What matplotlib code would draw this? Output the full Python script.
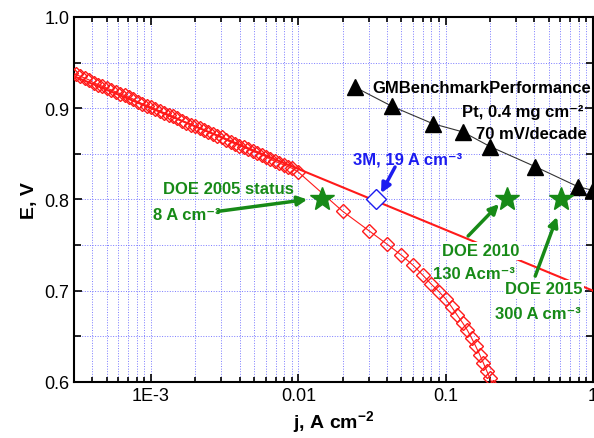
import matplotlib
matplotlib.use("Agg")
import matplotlib.pyplot as plt
from matplotlib.ticker import MultipleLocator, LogLocator, NullFormatter

plt.rcParams['font.family'] = ['Liberation Sans', 'DejaVu Sans']
plt.rcParams['mathtext.fontset'] = 'custom'
plt.rcParams['mathtext.rm'] = 'Liberation Sans'
plt.rcParams['mathtext.bf'] = 'Liberation Sans:bold'

# measured polarisation curve (open red diamonds)
j_meas = [2.88e-4, 3.09e-4, 3.31e-4, 3.55e-4, 3.80e-4, 4.07e-4, 4.37e-4, 4.68e-4,
          5.01e-4, 5.37e-4, 5.75e-4, 6.17e-4, 6.61e-4, 7.08e-4, 7.59e-4, 8.13e-4,
          8.71e-4, 9.33e-4, 1.00e-3, 1.07e-3, 1.15e-3, 1.23e-3, 1.32e-3, 1.41e-3,
          1.51e-3, 1.62e-3, 1.74e-3, 1.86e-3, 2.00e-3, 2.14e-3, 2.29e-3, 2.45e-3,
          2.63e-3, 2.82e-3, 3.02e-3, 3.24e-3, 3.47e-3, 3.72e-3, 3.98e-3, 4.27e-3,
          4.57e-3, 4.90e-3, 5.25e-3, 5.62e-3, 6.03e-3, 6.46e-3, 6.92e-3, 7.41e-3,
          7.94e-3, 8.51e-3, 9.12e-3,
          0.01, 0.02, 0.03, 0.04, 0.05, 0.06, 0.07, 0.08, 0.09, 0.10,
          0.11, 0.12, 0.13, 0.14, 0.15, 0.16, 0.17, 0.18, 0.19, 0.20, 0.21]
E_meas = [0.939, 0.937, 0.935, 0.933, 0.931, 0.928, 0.926, 0.924, 0.922, 0.920,
          0.918, 0.916, 0.914, 0.912, 0.910, 0.907, 0.905, 0.903, 0.901, 0.899,
          0.897, 0.895, 0.893, 0.891, 0.889, 0.886, 0.884, 0.882, 0.880, 0.878,
          0.876, 0.874, 0.872, 0.870, 0.868, 0.865, 0.863, 0.861, 0.859, 0.857,
          0.855, 0.853, 0.851, 0.849, 0.847, 0.844, 0.842, 0.840, 0.838, 0.836,
          0.834,
          0.830, 0.787, 0.766, 0.751, 0.739, 0.728, 0.717, 0.707, 0.699, 0.691,
          0.682, 0.673, 0.665, 0.657, 0.648, 0.639, 0.630, 0.621, 0.612, 0.604, 0.595]

# Tafel fit line
j_tafel = [3e-4, 1.0]
E_tafel = [0.935, 0.700]

# GM benchmark
j_gm = [0.0243, 0.0433, 0.082, 0.131, 0.200, 0.405, 0.79, 1.0]
E_gm = [0.923, 0.902, 0.883, 0.874, 0.858, 0.836, 0.814, 0.810]

# DOE targets
j_doe = [0.0145, 0.261, 0.607]
E_doe = [0.80, 0.80, 0.80]

# 3M
j_3m = [0.0337]
E_3m = [0.80]

xtick_vals = [1e-3, 1e-2, 1e-1, 1]
xtick_labels = ['1E-3', '0.01', '0.1', '1']
ytick_vals = [0.6, 0.7, 0.8, 0.9, 1.0]

green = '#178a17'
blue = '#1c1cf0'
red = '#ff1a1a'

fig = plt.figure(figsize=(5.94, 4.39), dpi=100)
ax = fig.add_axes([0.1246, 0.1276, 0.8738, 0.8314])

ax.plot(j_tafel, E_tafel, color=red, lw=1.5, zorder=3)
ax.plot(j_meas, E_meas, color=red, lw=0.8, marker='D', ms=7, mfc='none',
        mec=red, mew=1.0, zorder=4)
ax.plot(j_gm, E_gm, color='#333333', lw=0.8, marker='^', ms=11, mfc='black',
        mec='black', zorder=4)
ax.plot(j_doe, E_doe, ls='none', marker='*', ms=18, color=green, zorder=6)
ax.plot(j_3m, E_3m, ls='none', marker='D', ms=10, mfc='white', mec=blue, mew=1.0, zorder=6)

ax.set_xscale('log')
ax.set_xlim(3e-4, 1.0)
ax.set_ylim(0.6, 1.0)
ax.set_xticks(xtick_vals)
ax.set_xticklabels(xtick_labels)
ax.xaxis.set_minor_locator(LogLocator(base=10, subs=range(2, 10), numticks=20))
ax.xaxis.set_minor_formatter(NullFormatter())
ax.set_yticks(ytick_vals)
ax.yaxis.set_minor_locator(MultipleLocator(0.05))

ax.grid(which='both', color='#7a7aff', linestyle=':', linewidth=0.7)
ax.set_axisbelow(True)
ax.tick_params(which='both', direction='in', top=True, right=True, labelsize=13,
               width=1.2)
ax.tick_params(which='major', length=6)
ax.tick_params(axis='x', which='minor', length=3.5)
ax.tick_params(axis='y', which='minor', length=5)
for s in ax.spines.values():
    s.set_linewidth(1.5)

ax.set_xlabel(r'j, A cm$^{\mathbf{-2}}$', fontsize=14, fontweight='bold', labelpad=3)
ax.set_ylabel('E, V', fontsize=14, fontweight='bold', labelpad=4)

tkw = dict(fontsize=12, fontweight='bold')
awk = dict(arrowstyle='-|>', lw=2.5, mutation_scale=14, shrinkA=0, shrinkB=0)

# DOE 2005
ax.text(1.2e-3, 0.8115, 'DOE 2005 status', color=green, ha='left', va='center', **tkw)
ax.text(1.03e-3, 0.784, '8 A cm⁻³', color=green, ha='left', va='center', **tkw)
ax.annotate('', xy=(0.0115, 0.80), xytext=(2.85e-3, 0.787),
            arrowprops=dict(color=green, **awk), zorder=5)

# 3M
ax.text(0.0235, 0.8444, '3M, 19 A cm⁻³', color=blue, ha='left', va='center', **tkw)
ax.annotate('', xy=(0.0364, 0.807), xytext=(0.0453, 0.8356),
            arrowprops=dict(color=blue, **awk), zorder=5)

# DOE 2010
bb = dict(facecolor='white', edgecolor='none', pad=1)
ax.text(0.0944, 0.7436, 'DOE 2010', color=green, ha='left', va='center', bbox=bb, zorder=5, **tkw)
ax.text(0.082, 0.7184, '130 Acm⁻³', color=green, ha='left', va='center', zorder=5, **tkw)
ax.annotate('', xy=(0.230, 0.795), xytext=(0.142, 0.760),
            arrowprops=dict(color=green, **awk), zorder=5)

# DOE 2015
ax.text(0.253, 0.702, 'DOE 2015', color=green, ha='left', va='center', bbox=bb, zorder=5, **tkw)
ax.text(0.216, 0.6756, '300 A cm⁻³', color=green, ha='left', va='center', zorder=5, **tkw)
ax.annotate('', xy=(0.570, 0.781), xytext=(0.405, 0.716),
            arrowprops=dict(color=green, **awk), zorder=5)

# GM benchmark labels
ax.text(0.0316, 0.923, 'GMBenchmarkPerformance', color='black', ha='left', va='center', **tkw)
ax.text(0.857, 0.896, 'Pt, 0.4 mg cm⁻²', color='black', ha='right', va='center', **tkw)
ax.text(0.91, 0.872, '70 mV/decade', color='black', ha='right', va='center', **tkw)

fig.savefig('out.png', dpi=100)
